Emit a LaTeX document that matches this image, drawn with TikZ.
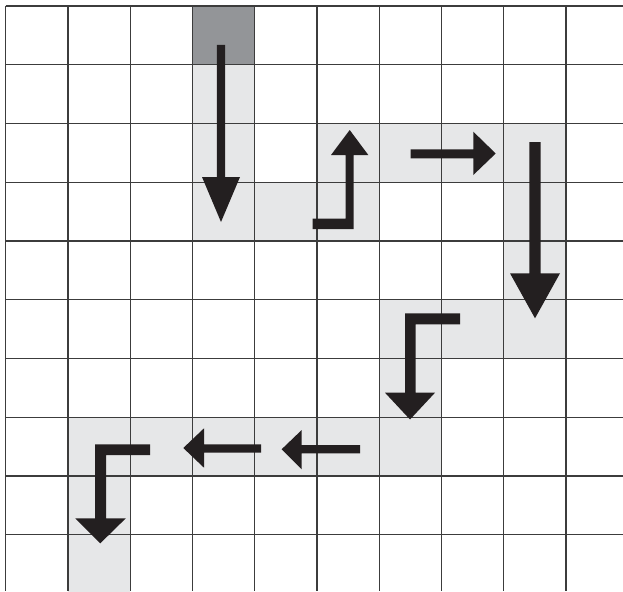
\documentclass[tikz,border=0pt]{standalone}
\usetikzlibrary{calc}
\definecolor{lightcell}{HTML}{E6E7E8}
\definecolor{darkcell}{HTML}{939598}
\definecolor{gridline}{HTML}{3C3C3C}
\definecolor{arrowfill}{HTML}{231F20}
\tikzset{
  gridstyle/.style={draw=gridline, line width=1.1pt},
  arrowshape/.style={fill=arrowfill, draw=none},
}
\begin{document}
\begin{tikzpicture}[x=1pt,y=-1pt]
\useasboundingbox (0,0) rectangle (623,591);
\fill[white] (0,0) rectangle (623,591);
\begin{scope}
\clip (0,0) rectangle (623,591);
% shaded cells
\def\cw{62.26}
\def\rh{58.75}
\fill[darkcell] ({5.7+3*\cw},{6+0*\rh}) rectangle ++(\cw,\rh);
\foreach \c/\r in {3/1,3/2,3/3,4/3,5/2,5/3,6/2,7/2,8/2,8/3,8/4,8/5,6/5,7/5,6/6,6/7,5/7,4/7,3/7,2/7,1/7,1/8,1/9}{
  \fill[lightcell] ({5.7+\c*\cw},{6+\r*\rh}) rectangle ++(\cw,\rh);
}
% grid
\foreach \i in {0,...,9}{
  \draw[gridstyle] ({5.7+\i*\cw},6) -- ({5.7+\i*\cw},591);
  \draw[gridstyle] (5.7,{6+\i*\rh}) -- (623,{6+\i*\rh});
}
\end{scope}
% arrows
\fill[arrowshape] (216.8,45) -- (225,45) -- (225,177) -- (240,177) -- (221,222) -- (202,177) -- (216.8,177) -- cycle;
\fill[arrowshape] (312.7,229) -- (353.5,229) -- (353.5,155) -- (368.3,155) -- (349.7,130) -- (331,155) -- (345.7,155) -- (345.7,218.7) -- (312.7,218.7) -- cycle;
\fill[arrowshape] (410.7,149.3) -- (473.3,149.3) -- (473.3,131.7) -- (495.7,153.5) -- (473.3,175) -- (473.3,158.3) -- (410.7,158.3) -- cycle;
\fill[arrowshape] (529.3,142) -- (540.7,142) -- (540.7,273.3) -- (560,273.3) -- (535,318.3) -- (510,273.3) -- (529.3,273.3) -- cycle;
\fill[arrowshape] (460,313.3) -- (405,313.3) -- (405,392.7) -- (385,392.7) -- (410,419.5) -- (435,392.7) -- (415.7,392.7) -- (415.7,324.3) -- (460,324.3) -- cycle;
\fill[arrowshape] (360,445) -- (301.7,445) -- (301.7,430) -- (281.7,449.2) -- (301.7,469.3) -- (301.7,453.3) -- (360,453.3) -- cycle;
\fill[arrowshape] (261,444.3) -- (204,444.3) -- (204,428.3) -- (183.3,448) -- (204,467.7) -- (204,452.7) -- (261,452.7) -- cycle;
\fill[arrowshape] (150,444.3) -- (95,444.3) -- (95,518.3) -- (75.3,518.3) -- (100.3,543.3) -- (125.8,518.3) -- (106,518.3) -- (106,455) -- (150,455) -- cycle;
\end{tikzpicture}
\end{document}
